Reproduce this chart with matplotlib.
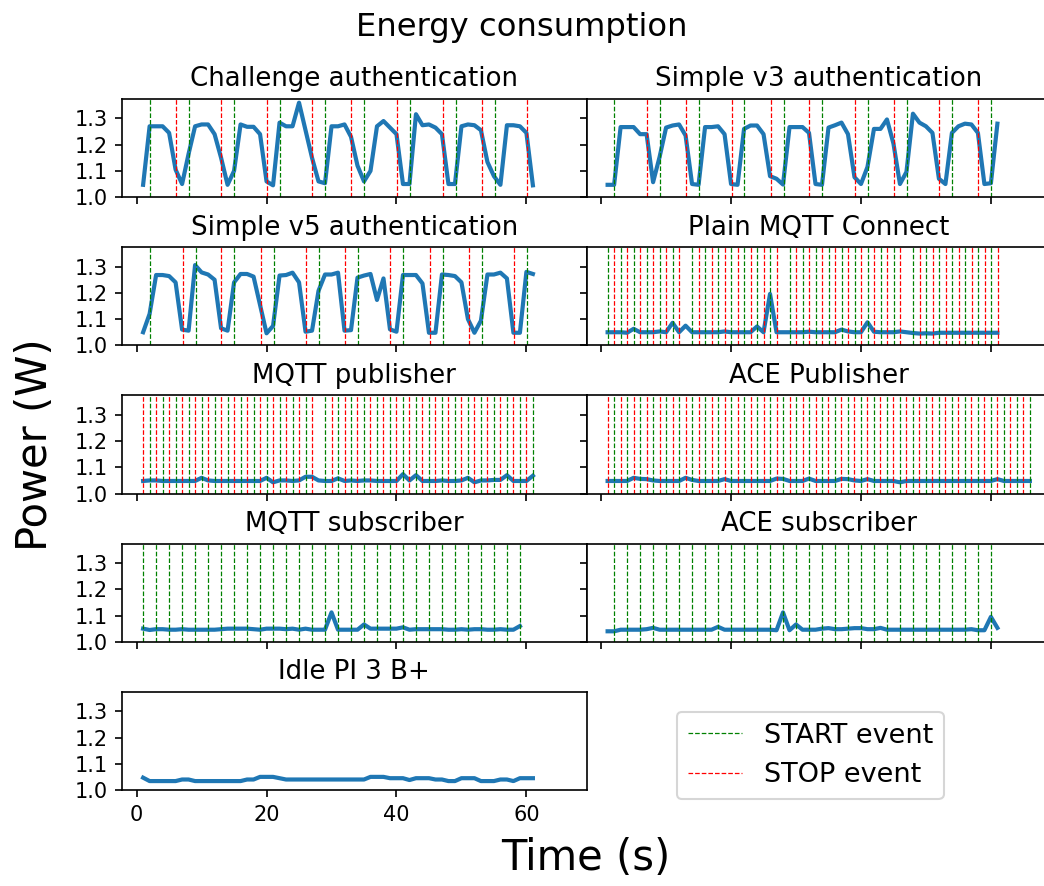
import matplotlib
matplotlib.use("Agg")
import matplotlib.pyplot as plt
from matplotlib.lines import Line2D

# ---------------- data ----------------
titles = ["Challenge authentication", "Simple v3 authentication",
          "Simple v5 authentication", "Plain MQTT Connect",
          "MQTT publisher", "ACE Publisher",
          "MQTT subscriber", "ACE subscriber",
          "Idle PI 3 B+"]

challenge = [1.047, 1.27, 1.27, 1.27, 1.245, 1.105, 1.05, 1.165, 1.27, 1.277,
             1.277, 1.24, 1.15, 1.047, 1.10, 1.277, 1.268, 1.268, 1.24, 1.06,
             1.045, 1.284, 1.27, 1.27, 1.36, 1.255, 1.15, 1.06, 1.053, 1.27,
             1.27, 1.277, 1.23, 1.12, 1.06, 1.10, 1.27, 1.29, 1.265, 1.24,
             1.05, 1.05, 1.316, 1.274, 1.277, 1.265, 1.24, 1.05, 1.05, 1.27,
             1.277, 1.274, 1.255, 1.134, 1.08, 1.047, 1.274, 1.274, 1.27, 1.245,
             1.045]
simple_v3 = [1.047, 1.047, 1.267, 1.267, 1.267, 1.24, 1.24, 1.057, 1.153, 1.265,
             1.273, 1.277, 1.235, 1.05, 1.047, 1.267, 1.267, 1.27, 1.24, 1.05,
             1.047, 1.26, 1.273, 1.273, 1.24, 1.08, 1.07, 1.048, 1.267, 1.267,
             1.267, 1.245, 1.05, 1.047, 1.265, 1.274, 1.284, 1.24, 1.076, 1.05,
             1.115, 1.26, 1.26, 1.296, 1.204, 1.05, 1.096, 1.318, 1.284, 1.27,
             1.245, 1.07, 1.05, 1.245, 1.27, 1.28, 1.277, 1.245, 1.05, 1.053,
             1.28]
simple_v5 = [1.05, 1.12, 1.268, 1.268, 1.264, 1.24, 1.06, 1.056, 1.306, 1.278,
             1.27, 1.25, 1.065, 1.056, 1.24, 1.272, 1.272, 1.262, 1.154, 1.046,
             1.074, 1.266, 1.268, 1.277, 1.24, 1.052, 1.056, 1.208, 1.27, 1.27,
             1.277, 1.056, 1.058, 1.258, 1.266, 1.272, 1.173, 1.255, 1.061, 1.052,
             1.268, 1.268, 1.268, 1.236, 1.048, 1.048, 1.27, 1.268, 1.264, 1.24,
             1.10, 1.048, 1.094, 1.27, 1.27, 1.277, 1.255, 1.048, 1.048, 1.28,
             1.272]
plain_connect = [1.05, 1.05, 1.05, 1.048, 1.063, 1.05, 1.05, 1.05, 1.053, 1.05,
                 1.086, 1.05, 1.075, 1.05, 1.05, 1.05, 1.05, 1.05, 1.053, 1.05,
                 1.05, 1.05, 1.05, 1.072, 1.05, 1.196, 1.05, 1.05, 1.05, 1.05,
                 1.05, 1.052, 1.05, 1.05, 1.05, 1.05, 1.06, 1.053, 1.05, 1.05,
                 1.088, 1.052, 1.05, 1.05, 1.05, 1.053, 1.05, 1.047, 1.045, 1.046,
                 1.045, 1.048, 1.048, 1.048, 1.048, 1.048, 1.048, 1.048, 1.048, 1.048,
                 1.048]
mqtt_pub = [1.048, 1.05, 1.05, 1.048, 1.048, 1.048, 1.048, 1.048, 1.048, 1.06,
            1.05, 1.048, 1.048, 1.048, 1.048, 1.048, 1.048, 1.048, 1.048, 1.06,
            1.043, 1.05, 1.05, 1.048, 1.05, 1.064, 1.064, 1.05, 1.048, 1.048,
            1.058, 1.048, 1.05, 1.048, 1.05, 1.05, 1.048, 1.048, 1.048, 1.048,
            1.074, 1.05, 1.07, 1.048, 1.048, 1.048, 1.05, 1.048, 1.048, 1.05,
            1.06, 1.043, 1.05, 1.05, 1.052, 1.052, 1.07, 1.048, 1.048, 1.048,
            1.068]
ace_pub = [1.048, 1.048, 1.048, 1.048, 1.06, 1.056, 1.055, 1.05, 1.048, 1.048,
           1.048, 1.048, 1.06, 1.052, 1.048, 1.048, 1.048, 1.048, 1.055, 1.048,
           1.048, 1.048, 1.048, 1.048, 1.048, 1.048, 1.057, 1.056, 1.048, 1.048,
           1.048, 1.057, 1.048, 1.048, 1.048, 1.048, 1.056, 1.055, 1.05, 1.048,
           1.055, 1.048, 1.048, 1.048, 1.048, 1.043, 1.048, 1.048, 1.048, 1.048,
           1.048, 1.048, 1.048, 1.048, 1.048, 1.048, 1.048, 1.048, 1.048, 1.048,
           1.055, 1.048, 1.048, 1.048, 1.048, 1.048]
mqtt_sub = [1.05, 1.045, 1.048, 1.048, 1.046, 1.046, 1.048, 1.046, 1.046, 1.046,
            1.046, 1.046, 1.048, 1.05, 1.05, 1.05, 1.05, 1.048, 1.046, 1.05,
            1.05, 1.05, 1.048, 1.05, 1.046, 1.05, 1.046, 1.046, 1.046, 1.112,
            1.046, 1.046, 1.046, 1.046, 1.066, 1.05, 1.05, 1.05, 1.05, 1.05,
            1.055, 1.046, 1.048, 1.048, 1.048, 1.048, 1.048, 1.046, 1.046, 1.048,
            1.046, 1.048, 1.048, 1.046, 1.046, 1.048, 1.046, 1.046, 1.06]
ace_sub = [1.04, 1.04, 1.046, 1.046, 1.046, 1.046, 1.048, 1.053, 1.046, 1.046,
           1.046, 1.046, 1.046, 1.046, 1.046, 1.046, 1.046, 1.057, 1.046, 1.046,
           1.046, 1.046, 1.046, 1.046, 1.046, 1.046, 1.044, 1.112, 1.044, 1.066,
           1.046, 1.046, 1.046, 1.05, 1.052, 1.048, 1.048, 1.05, 1.052, 1.052,
           1.048, 1.048, 1.053, 1.046, 1.046, 1.046, 1.046, 1.046, 1.046, 1.046,
           1.046, 1.046, 1.046, 1.046, 1.046, 1.046, 1.048, 1.044, 1.044, 1.095,
           1.053]
idle = [1.047, 1.034, 1.034, 1.034, 1.034, 1.034, 1.04, 1.04, 1.034, 1.034,
        1.034, 1.034, 1.034, 1.034, 1.034, 1.034, 1.04, 1.04, 1.05, 1.05,
        1.05, 1.045, 1.04, 1.04, 1.04, 1.04, 1.04, 1.04, 1.04, 1.04,
        1.04, 1.04, 1.04, 1.04, 1.04, 1.05, 1.05, 1.05, 1.045, 1.045,
        1.045, 1.038, 1.045, 1.045, 1.045, 1.04, 1.04, 1.034, 1.034, 1.045,
        1.045, 1.045, 1.034, 1.034, 1.034, 1.04, 1.04, 1.034, 1.045, 1.045,
        1.045]

# event times (s)
challenge_start = [2.05, 8.07, 15.06, 22.06, 29.05, 35.06, 42.06, 49.1, 55.1]
challenge_stop = [6.0, 13.06, 20.05, 27.04, 33.06, 40.05, 47.1, 53.1, 60.1]
v3_start = [2.05, 9.03, 15.1, 22.0, 28.1, 34.0, 41.1, 47.1, 54.05, 60.06]
v3_stop = [7.03, 13.04, 20.07, 26.08, 32.0, 39.07, 45.07, 52.05, 58.06]
v5_start = [2.06, 9.1, 15.06, 21.08, 28.1, 34.1, 41.08, 47.1, 53.1, 60.1]
v5_stop = [7.1, 13.06, 19.07, 26.07, 32.08, 39.07, 45.1, 51.1, 58.15]
connect_start = [1.05, 3.05, 5.05, 7.05, 9.05, 11.05, 14.05, 16.05, 18.05, 20.05,
                 22.05, 24.05, 26.05, 29.05, 31.05, 33.05, 35.05, 37.05, 39.05,
                 41.05, 43.05, 45.05, 48.05, 50.05, 52.05, 54.05, 56.05, 58.05, 60.05]
connect_stop = [2.05, 4.05, 6.05, 8.05, 10.05, 12.05, 15.05, 17.05, 19.05, 21.05,
                23.05, 25.05, 27.05, 30.05, 32.05, 34.05, 36.05, 38.05, 40.05,
                42.05, 44.05, 46.05, 49.05, 51.05, 53.05, 55.05, 57.05, 59.05, 61.05]
pub_start = [2.0, 4.0, 6.0, 8.0, 10.0, 12.0, 14.0, 16.0, 18.0, 20.0, 22.0, 24.0,
             26.0, 29.0, 31.0, 33.0, 35.0, 37.0, 39.0, 41.0, 43.0, 45.0, 47.0,
             49.0, 51.0, 53.0, 55.0, 57.0, 59.0, 61.0]
pub_stop = [1.0, 3.0, 5.0, 7.0, 9.0, 11.0, 13.0, 15.0, 17.0, 19.0, 21.0, 23.0,
            25.0, 27.0, 30.0, 32.0, 34.0, 36.0, 38.0, 40.0, 42.0, 44.0, 46.0,
            48.0, 50.0, 52.0, 54.0, 56.0, 58.0, 60.0]
acepub_start = [2.0, 4.0, 6.0, 8.0, 10.0, 12.0, 14.0, 16.0, 18.0, 20.0, 22.0,
                24.0, 26.0, 28.0, 30.0, 32.0, 34.0, 36.0, 38.0, 40.0, 42.0, 44.0,
                46.0, 48.0, 50.0, 52.0, 54.0, 56.0, 58.0, 60.0, 62.0, 64.0, 66.0]
acepub_stop = [1.0, 3.0, 5.0, 7.0, 9.0, 11.0, 13.0, 15.0, 17.0, 19.0, 21.0,
               23.0, 25.0, 27.0, 29.0, 31.0, 33.0, 35.0, 37.0, 39.0, 41.0, 43.0,
               45.0, 47.0, 49.0, 51.0, 53.0, 55.0, 57.0, 59.0, 61.0, 63.0, 65.0]
sub_start = [1.0, 3.0, 5.0, 7.0, 9.0, 11.0, 13.0, 15.0, 17.0, 19.0, 21.0, 23.0,
             25.0, 27.0, 29.0, 31.0, 33.0, 35.0, 37.0, 39.0, 41.0, 43.0, 45.0,
             47.0, 49.0, 51.0, 53.0, 55.0, 57.0, 59.0]
acesub_start = [2.0, 4.0, 6.0, 8.0, 10.0, 12.0, 14.0, 16.0, 18.0, 20.0, 22.0,
                24.0, 26.0, 28.0, 30.0, 32.0, 34.0, 36.0, 38.0, 40.0, 42.0, 44.0,
                46.0, 48.0, 50.0, 52.0, 54.0, 56.0, 58.0, 60.0]

series = [challenge, simple_v3, simple_v5, plain_connect, mqtt_pub, ace_pub,
          mqtt_sub, ace_sub, idle]
starts = [challenge_start, v3_start, v5_start, connect_start, pub_start,
          acepub_start, sub_start, acesub_start, []]
stops = [challenge_stop, v3_stop, v5_stop, connect_stop, pub_stop,
         acepub_stop, [], [], []]

# ---------------- figure ----------------
W, H = 1044, 886
fig, axes = plt.subplots(5, 2, sharex=True, sharey=True,
                         figsize=(W / 150, H / 150), dpi=150)
fig.subplots_adjust(left=122 / W, right=1051 / W, top=1 - 99 / H,
                    bottom=1 - 790 / H, wspace=0, hspace=50 / 98)

flat = axes.flatten()
for i, ax in enumerate(flat[:9]):
    y = series[i]
    x = list(range(1, len(y) + 1))
    ax.plot(x, y, color="#1f77b4", lw=2)
    for e in starts[i]:
        ax.axvline(e, color="green", ls="--", lw=0.6)
    for e in stops[i]:
        ax.axvline(e, color="red", ls="--", lw=0.6)
    ax.set_title(titles[i], fontsize=12.5)

flat[9].remove()

ax0 = flat[0]
ax0.set_xlim(-2.25, 69.25)
ax0.set_ylim(1.0, 1.374)
ax0.set_yticks([1.0, 1.1, 1.2, 1.3])
ax0.set_xticks([0, 20, 40, 60])

fig.suptitle("Energy consumption", fontsize=15.5, y=1 - 12 / H, va="top")
fig.text(586 / W, 1 - 858 / H, "Time (s)", fontsize=20, ha="center", va="center")
fig.text(35 / W, 1 - 445 / H, "Power (W)", fontsize=20, ha="center",
         va="center", rotation=90)

handles = [Line2D([], [], color="green", ls="--", lw=0.6),
           Line2D([], [], color="red", ls="--", lw=0.6)]
fig.legend(handles, ["START event", "STOP event"], fontsize=13,
           loc="upper left", bbox_to_anchor=(677 / W, 1 - 712 / H),
           borderaxespad=0)

fig.savefig("out.png", dpi=150)
